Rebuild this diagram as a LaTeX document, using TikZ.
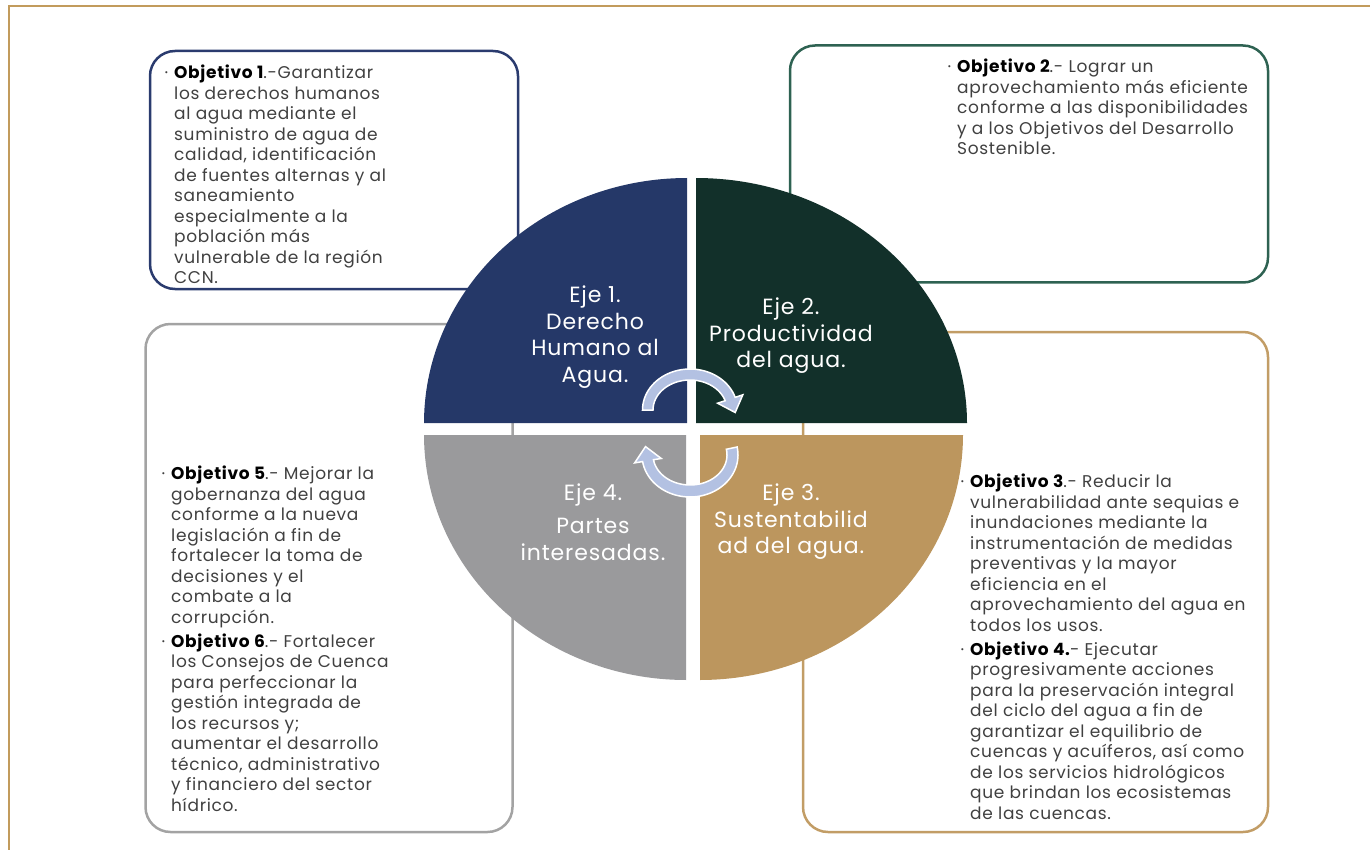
\documentclass[tikz,border=0pt]{standalone}
\usepackage{fontspec}
\setmainfont{Poppins}[LetterSpace=4]
\definecolor{qnavy}{HTML}{253868}
\definecolor{qgreen}{HTML}{12302A}
\definecolor{qgray}{HTML}{9A9A9C}
\definecolor{qtan}{HTML}{BC965E}
\definecolor{bnavy}{HTML}{2A3B6E}
\definecolor{bgreen}{HTML}{2E6252}
\definecolor{bgray}{HTML}{A3A3A3}
\definecolor{btan}{HTML}{C29D66}
\definecolor{framecol}{HTML}{C29B5C}
\definecolor{bodytext}{HTML}{404040}
\definecolor{arrowfill}{HTML}{B3C1E2}
\newcommand{\obj}[1]{\makebox[0pt][r]{\textcolor{bodytext}{·}\hspace{6pt}}\textcolor{black}{\bfseries #1}}
\begin{document}
\begin{tikzpicture}[x=1pt,y=-1pt,
  objbox/.style={draw=#1, line width=2.5pt, rounded corners=25pt, inner sep=0pt},
  objtext/.style={anchor=north west, inner sep=0pt, align=left, text=bodytext,
    font=\fontsize{17}{20.5}\selectfont},
  eje/.style={text=white, align=center, inner sep=0pt, font=\fontsize{22}{26.5}\selectfont},
  frameline/.style={draw=framecol, line width=2.5pt},
  cyclearrow/.style={fill=arrowfill, draw=white, line width=1.5pt, line join=miter}]
\useasboundingbox (0,0) rectangle (1370,850);
% frame
\draw[frameline] (9,851) -- (9,6) -- (1371,6);
% objective boxes
\node[objbox=bnavy, minimum width=368pt, minimum height=238pt] (b1) at (334,170) {};
\node[objbox=bgreen, minimum width=478pt, minimum height=237pt] (b2) at (1029,164) {};
\node[objbox=bgray, minimum width=367pt, minimum height=508pt] (b3) at (329,578) {};
\node[objbox=btan, minimum width=465pt, minimum height=500pt] (b4) at (1035.5,582) {};
% texts
\node[objtext] (t1) at (174,65) {\obj{Objetivo 1}.-Garantizar\\los derechos humanos\\al agua mediante el\\suministro de agua de\\calidad, identificación\\de fuentes alternas y al\\saneamiento\\especialmente a la\\población más\\vulnerable de la región\\CCN.};
\node[objtext] (t2) at (957,59) {\obj{Objetivo 2}.- Lograr un\\aprovechamiento más eficiente\\conforme a las disponibilidades\\y a los Objetivos del Desarrollo\\Sostenible.};
\node[objtext] (t3) at (171,466) {\obj{Objetivo 5}.- Mejorar la\\gobernanza del agua\\conforme a la nueva\\legislación a fin de\\fortalecer la toma de\\decisiones y el\\combate a la\\corrupción.\\[3.5pt]\obj{Objetivo 6}.- Fortalecer\\los Consejos de Cuenca\\para perfeccionar la\\gestión integrada de\\los recursos y;\\aumentar el desarrollo\\técnico, administrativo\\y financiero del sector\\hídrico.};
\node[objtext] (t4) at (970,474) {\obj{Objetivo 3}.- Reducir la\\vulnerabilidad ante sequias e\\inundaciones mediante la\\instrumentación de medidas\\preventivas y la mayor\\eficiencia en el\\aprovechamiento del agua en\\todos los usos.\\[3.5pt]\obj{Objetivo 4.}- Ejecutar\\progresivamente acciones\\para la preservación integral\\del ciclo del agua a fin de\\garantizar el equilibrio de\\cuencas y acuíferos, así como\\de los servicios hidrológicos\\que brindan los ecosistemas\\de las cuencas.};
% quadrants
\fill[qnavy] (687,423) -- plot[domain=90:180,samples=80] ({687+263*cos(\x)},{423-245*sin(\x)}) -- cycle;
\fill[qgreen] (696,423) -- plot[domain=0:90,samples=80] ({696+271*cos(\x)},{423-245*sin(\x)}) -- cycle;
\fill[qgray] (686,435) -- plot[domain=180:270,samples=80] ({686+262*cos(\x)},{435-245*sin(\x)}) -- cycle;
\fill[qtan] (700,435) -- plot[domain=270:360,samples=80] ({700+263*cos(\x)},{435-245*sin(\x)}) -- cycle;
% axis labels
\node[eje] (e1) at (595,337) {Eje 1.\\Derecho\\Humano al\\Agua.};
\node[eje] (e2) at (791,336) {Eje 2.\\Productividad\\del agua.};
\node[eje] (e4) at (593,522) {Eje 4.\\[7pt]Partes\\interesadas.};
\node[eje] (e3) at (791,522) {Eje 3.\\Sustentabilid\\ad del agua.};
% cycle arrows
\path[cyclearrow] (642.5,410) -- plot[domain=180:18,samples=40] ({690+47.5*cos(\x)},{410-41*sin(\x)})
  -- (742.8,394.8) -- (735.2,412.5) -- (717.6,403.2)
  -- plot[domain=18:180,samples=40] ({690+37*cos(\x)},{410-30*sin(\x)}) -- cycle;
\path[cyclearrow] ({690+48*cos(11)},{455-42*sin(11)}) -- plot[domain=11:-171,samples=50] ({690+48*cos(\x)},{455-42*sin(\x)})
  -- (634.7,462.9) -- (645.5,446.6) -- (661.3,458.5)
  -- plot[domain=-171:11,samples=50] ({690+37*cos(\x)},{455-30*sin(\x)}) -- cycle;
\end{tikzpicture}
\end{document}
